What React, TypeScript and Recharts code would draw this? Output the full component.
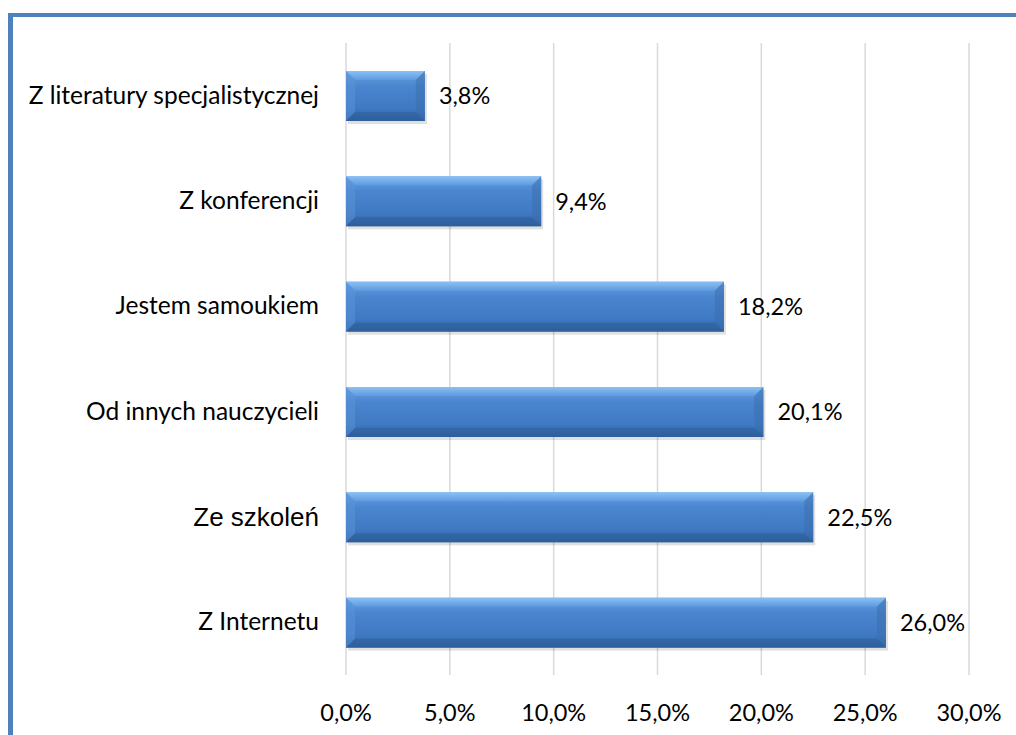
import React from 'react';
import { BarChart, Bar, XAxis, YAxis, CartesianGrid, LabelList } from 'recharts';

const categories = [
  'Z literatury specjalistycznej',
  'Z konferencji',
  'Jestem samoukiem',
  'Od innych nauczycieli',
  'Ze szkoleń',
  'Z Internetu',
];
const shares = [3.8, 9.4, 18.2, 20.1, 22.5, 26.0];
const xTicks = [0, 5, 10, 15, 20, 25, 30];

const data = categories.map((name, i) => ({ name, value: shares[i] }));

const FONT = 'Lato, "Open Sans", sans-serif';
const fmt = (v: number) => v.toFixed(1).replace('.', ',') + '%';

const BevelBar = (props: any) => {
  const { x, y, width, height } = props;
  if (!width || width <= 0) return null;
  const b = 9;
  return (
    <g>
      <rect x={x + 2} y={y + 3} width={width} height={height} fill="#000" opacity={0.12} />
      <rect x={x} y={y} width={width} height={height} fill="url(#barFill)" />
      <polygon points={`${x},${y} ${x + width},${y} ${x + width - b},${y + b} ${x + b},${y + b}`} fill="url(#topBevel)" />
      <polygon points={`${x},${y} ${x + b},${y + b} ${x + b},${y + height - b} ${x},${y + height}`} fill="#5b93d6" opacity={0.5} />
      <polygon points={`${x},${y + height} ${x + b},${y + height - b} ${x + width - b},${y + height - b} ${x + width},${y + height}`} fill="#2e5f9c" opacity={0.55} />
      <polygon points={`${x + width},${y} ${x + width},${y + height} ${x + width - b},${y + height - b} ${x + width - b},${y + b}`} fill="#3a6eae" opacity={0.5} />
    </g>
  );
};

const CatTick = (props: any) => {
  const { x, y, payload } = props;
  const arial = payload.value === 'Ze szkoleń';
  return (
    <text
      x={x}
      y={y}
      dy={arial ? 9 : 8}
      textAnchor="end"
      fill="#000"
      fontFamily={arial ? '"Liberation Sans", Arial, sans-serif' : FONT}
      fontSize={arial ? 26 : 24.5}
    >
      {payload.value}
    </text>
  );
};

export default function App() {
  return (
    <div>
      <style>{'html,body{overflow:hidden}'}</style>
      <div
        style={{
          position: 'absolute',
          left: 8,
          top: 13,
          width: 1008,
          height: 722,
          boxSizing: 'border-box',
          borderLeft: '5px solid #4f81bd',
          borderTop: '4px solid #4f81bd',
          background: '#fff',
        }}
      >
        <BarChart
          width={1003}
          height={718}
          data={data}
          layout="vertical"
          margin={{ top: 26, right: 47, bottom: 0, left: 0 }}
          barSize={50}
        >
          <defs>
            <linearGradient id="barFill" x1="0" y1="0" x2="0" y2="1">
              <stop offset="0%" stopColor="#6aa3e4" />
              <stop offset="30%" stopColor="#4a85cf" />
              <stop offset="75%" stopColor="#3f79c2" />
              <stop offset="100%" stopColor="#30609c" />
            </linearGradient>
            <linearGradient id="topBevel" x1="0" y1="0" x2="0" y2="1">
              <stop offset="0%" stopColor="#8cc0f3" />
              <stop offset="100%" stopColor="#5d9ae0" />
            </linearGradient>
          </defs>
          <CartesianGrid horizontal={false} vertical stroke="#d9d9d9" strokeWidth={1.5} />
          <XAxis
            type="number"
            domain={[0, 30]}
            ticks={xTicks}
            tickFormatter={fmt}
            axisLine={false}
            tickLine={false}
            height={60}
            tick={{ fill: '#000', fontSize: 23.5, fontFamily: FONT, dy: 21 }}
            interval={0}
          />
          <YAxis
            type="category"
            dataKey="name"
            width={333}
            axisLine={false}
            tickLine={false}
            tickMargin={21}
            tick={<CatTick />}
            interval={0}
          />
          <Bar dataKey="value" shape={<BevelBar />} isAnimationActive={false}>
            <LabelList
              dataKey="value"
              position="right"
              offset={14}
              formatter={(v: any) => fmt(Number(v))}
              style={{ fill: '#000', fontSize: 23.5, fontFamily: FONT }}
            />
          </Bar>
        </BarChart>
      </div>
    </div>
  );
}
